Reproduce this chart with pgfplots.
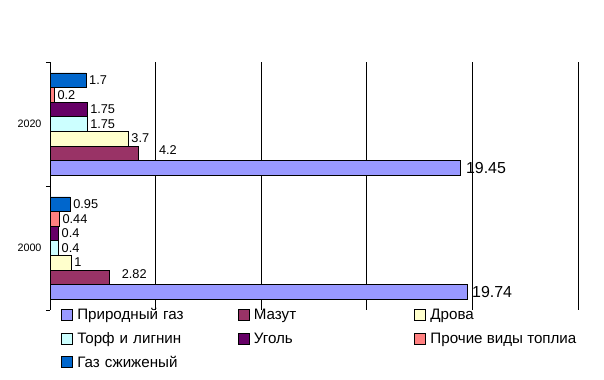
\documentclass[border=0pt]{standalone}
\usepackage{pgfplots}
\pgfplotsset{compat=1.18}
\usepackage{fontspec}
\setmainfont{Liberation Sans}
\definecolor{cgas}{HTML}{9999FF}
\definecolor{cmaz}{HTML}{993366}
\definecolor{cdrv}{HTML}{FFFFCC}
\definecolor{ctorf}{HTML}{CCFFFF}
\definecolor{ccoal}{HTML}{660066}
\definecolor{coth}{HTML}{FF8080}
\definecolor{clpg}{HTML}{0066CC}
\begin{document}
\begin{tikzpicture}
\useasboundingbox (0,0) rectangle (604bp,380bp);
\begin{axis}[
  at={(50bp,70bp)}, anchor=south west,
  scale only axis, width=528bp, height=248bp,
  xbar=0pt, bar width=14.6bp,
  xmin=0, xmax=25, ymin=-0.5, ymax=1.5,
  xtick={0,5,...,25}, xticklabels={}, xtick style={draw=none},
  xmajorgrids, major grid style={black, line width=0.8bp},
  axis y line*=left, axis x line*=bottom, x axis line style={draw=none},
  y axis line style={black, line width=0.8bp, -},
  ytick={-0.5,0.5,1.5}, yticklabels={}, tick align=outside,
  ytick style={black, line width=0.8bp}, major tick length=4bp,
  extra y ticks={0,1}, extra y tick labels={2000,2020},
  extra y tick style={major tick length=0pt, tick style={draw=none}},
  yticklabel style={font=\fontsize{10.8}{12}\selectfont, xshift=-5bp},
  nodes near coords,
  nodes near coords style={anchor=west, inner sep=3bp, font=\fontsize{12.8}{14}\selectfont, text=black},
  point meta=explicit symbolic,
  legend columns=3,
  legend cell align=left,
  legend image code/.code={\draw[#1, draw=black, line width=0.6bp] (0bp,-5.5bp) rectangle (11bp,5.5bp);},
  legend style={draw=none, fill=none, at={(0,0)}, anchor=north west, xshift=11bp, yshift=3.5bp,
    font=\fontsize{15.2}{17}\selectfont, row sep=7bp, inner sep=0pt,
    /tikz/every odd column/.append style={column sep=2.5bp},
    /tikz/column 2/.style={text width=158.5bp},
    /tikz/column 4/.style={text width=158.5bp}},
  every axis plot/.append style={draw=black, line width=0.6bp},
]
\addplot[fill=cgas, bar shift=-43.8bp, nodes near coords style={font=\fontsize{16}{18}\selectfont, xshift=2bp}]
  coordinates {(19.74,0) [19.74] (19.45,1) [19.45]};
\addplot[fill=cmaz, bar shift=-29.2bp, nodes near coords style={xshift=9bp, yshift=3bp}]
  coordinates {(2.82,0) [2.82]};
\addplot[fill=cdrv, bar shift=-14.6bp]
  coordinates {(1,0) [1] (3.7,1) [3.7]};
\addplot[fill=ctorf, bar shift=0bp]
  coordinates {(0.4,0) [0.4] (1.75,1) [1.75]};
\addplot[fill=ccoal, bar shift=14.6bp]
  coordinates {(0.4,0) [0.4] (1.75,1) [1.75]};
\addplot[fill=coth, bar shift=29.2bp]
  coordinates {(0.44,0) [0.44] (0.2,1) [0.2]};
\addplot[fill=clpg, bar shift=43.8bp]
  coordinates {(0.95,0) [0.95] (1.7,1) [1.7]};
\addplot[fill=cmaz, bar shift=-29.2bp, forget plot, nodes near coords style={xshift=17bp, yshift=3bp}]
  coordinates {(4.2,1) [4.2]};
\legend{Природный газ, Мазут, Дрова, Торф и лигнин, Уголь, Прочие виды топлиа, Газ сжиженый}
\end{axis}
\end{tikzpicture}
\end{document}
